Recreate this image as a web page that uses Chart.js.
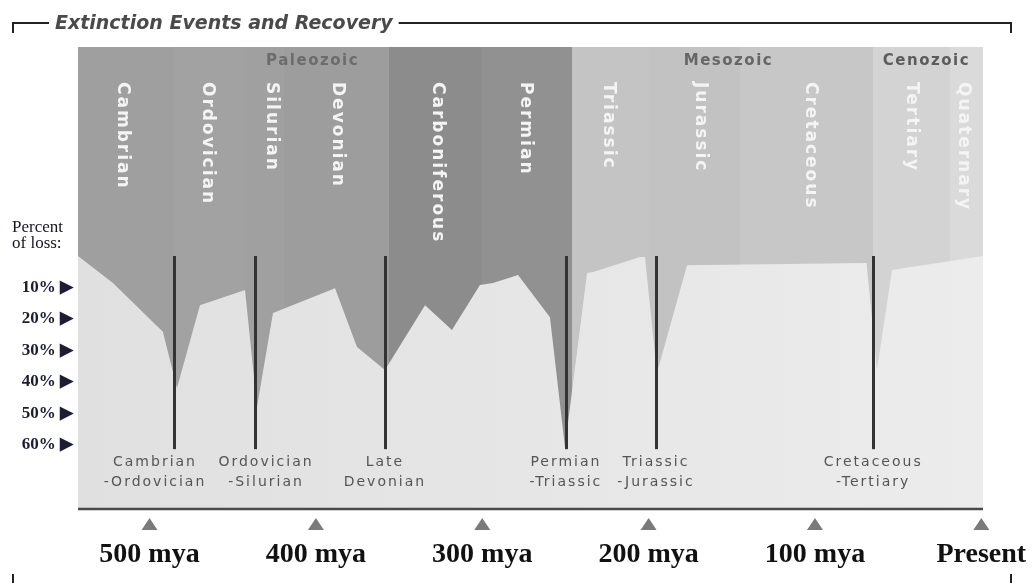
<!DOCTYPE html>
<html>
<head>
<meta charset="utf-8">
<script src="https://cdn.jsdelivr.net/npm/chart.js@4.4.0/dist/chart.umd.min.js"></script>
<style>
  html, body { margin: 0; padding: 0; background: #fff; }
</style>
</head>
<body>
<canvas id="myChart" width="1034" height="583"></canvas>
<script>
// curve: million years ago -> percent of loss
const lossMya = [543, 522, 492, 483.5, 469.7, 442.6, 435.4, 425.8, 388.5, 375.3, 358.5, 334.4, 318.2, 301.4, 293.5, 278.5, 259.3, 250.3, 237, 233.4, 205.2, 202.2, 195, 176.9, 69, 62.7, 53.7, -1];
const lossPct = [0, 8.6, 24, 41.9, 15.6, 10.8, 47.9, 18.1, 10.2, 28.9, 36.2, 15.6, 23.5, 9.2, 8.6, 6.0, 19.4, 60.6, 5.4, 5.1, 0.3, 0.3, 37.1, 2.9, 2.2, 36.2, 4.4, 0];

const periods = ['Cambrian', 'Ordovician', 'Silurian', 'Devonian', 'Carboniferous', 'Permian', 'Triassic', 'Jurassic', 'Cretaceous', 'Tertiary', 'Quaternary'];
const periodStart = [543, 485, 443, 419, 356, 300, 246, 200, 145, 65, 19];
const periodLabelAt = [516, 465, 427, 387, 327, 274, 224, 169, 103, 42, 11];

const eras = ['Paleozoic', 'Mesozoic', 'Cenozoic'];
const eraLabelAt = [402, 152, 33];

const events = [['Cambrian', '-Ordovician'], ['Ordovician', '-Silurian'], ['Late', 'Devonian'], ['Permian', '-Triassic'], ['Triassic', '-Jurassic'], ['Cretaceous', '-Tertiary']];
const eventMya = [485.3, 436.6, 358.5, 249.7, 195.6, 65];

const xTicks = [500, 400, 300, 200, 100, 0];
const yTicks = [0, 10, 20, 30, 40, 50, 60];

// looks
const shades = ['#9f9f9f', '#a2a2a2', '#a0a0a0', '#9d9d9d', '#8c8c8c', '#919191', '#c4c4c4', '#c2c2c2', '#c7c7c7', '#d3d3d3', '#dadada'];
const eraColors = ['#6c6c6c', '#666666', '#5c5c5c'];
const eventLabelShift = [-19, 11, 0, 0, 0, 0];

const panelPlugin = {
    id: 'panel',
    beforeDatasetsDraw(chart) {
        const {ctx, chartArea: a, scales: {x}} = chart;
        periods.forEach((p, i) => {
            const x0 = Math.round(x.getPixelForValue(periodStart[i]));
            const x1 = Math.round(x.getPixelForValue(i + 1 < periods.length ? periodStart[i + 1] : x.min));
            ctx.fillStyle = shades[i];
            ctx.fillRect(x0, a.top, x1 - x0, a.bottom - a.top);
        });
    },
    afterDraw(chart) {
        const {ctx, chartArea: a, scales: {x, y}} = chart;
        ctx.save();

        // event lines
        ctx.strokeStyle = '#333';
        ctx.lineWidth = 3;
        eventMya.forEach(m => {
            const px = Math.round(x.getPixelForValue(m)) + 0.5;
            ctx.beginPath();
            ctx.moveTo(px, y.getPixelForValue(0));
            ctx.lineTo(px, y.getPixelForValue(61.3));
            ctx.stroke();
        });

        // event labels
        ctx.fillStyle = '#555';
        ctx.font = '14px "DejaVu Sans"';
        ctx.letterSpacing = '2px';
        ctx.textAlign = 'center';
        ctx.textBaseline = 'middle';
        events.forEach((lines, i) => {
            const px = x.getPixelForValue(eventMya[i]) + eventLabelShift[i];
            lines.forEach((t, j) => ctx.fillText(t, px, 462 + j * 20));
        });

        // period names, vertical
        ctx.fillStyle = '#f4f4f4';
        ctx.font = 'bold 17px "DejaVu Sans"';
        ctx.textAlign = 'left';
        periods.forEach((p, i) => {
            ctx.save();
            ctx.translate(x.getPixelForValue(periodLabelAt[i]), 82);
            ctx.rotate(Math.PI / 2);
            ctx.fillText(p, 0, 0);
            ctx.restore();
        });

        // era names
        ctx.font = 'bold 15px "DejaVu Sans"';
        ctx.letterSpacing = '1.5px';
        ctx.textAlign = 'center';
        eras.forEach((e, i) => {
            ctx.fillStyle = eraColors[i];
            ctx.fillText(e, x.getPixelForValue(eraLabelAt[i]), 61);
        });
        ctx.letterSpacing = '0px';

        // panel bottom edge
        ctx.strokeStyle = '#4a4a4a';
        ctx.lineWidth = 2.5;
        ctx.beginPath();
        ctx.moveTo(a.left, a.bottom);
        ctx.lineTo(a.right, a.bottom);
        ctx.stroke();

        // tick triangles
        ctx.fillStyle = '#7a7a7a';
        xTicks.forEach(v => {
            const px = x.getPixelForValue(v);
            ctx.beginPath();
            ctx.moveTo(px - 8, 530);
            ctx.lineTo(px + 8, 530);
            ctx.lineTo(px, 518);
            ctx.closePath();
            ctx.fill();
        });

        // "Percent of loss:"
        ctx.fillStyle = '#151528';
        ctx.font = '17px "Liberation Serif"';
        ctx.textAlign = 'left';
        ctx.textBaseline = 'alphabetic';
        ctx.fillText('Percent', 12, 232);
        ctx.fillText('of loss:', 12, 248);

        // title and bracket
        ctx.fillStyle = '#4a4a4a';
        ctx.font = 'italic bold 19px "DejaVu Sans"';
        const title = 'Extinction Events and Recovery';
        ctx.fillText(title, 55, 29);
        const tw = ctx.measureText(title).width;
        ctx.strokeStyle = '#222';
        ctx.lineWidth = 2;
        ctx.beginPath();
        ctx.moveTo(13, 33);
        ctx.lineTo(13, 23);
        ctx.lineTo(49, 23);
        ctx.moveTo(55 + tw + 6, 23);
        ctx.lineTo(1011, 23);
        ctx.lineTo(1011, 33);
        ctx.moveTo(13, 574);
        ctx.lineTo(13, 583);
        ctx.moveTo(1011, 574);
        ctx.lineTo(1011, 583);
        ctx.stroke();

        ctx.restore();
    }
};

const ctx = document.getElementById('myChart').getContext('2d');
const chart = new Chart(ctx, {
    type: 'line',
    data: {
        datasets: [{
            data: lossMya.map((m, i) => ({x: m, y: lossPct[i]})),
            fill: 'start',
            backgroundColor: (c) => {
                const a = c.chart.chartArea;
                if (!a) return '#e5e5e5';
                const g = c.chart.ctx.createLinearGradient(a.left, 0, a.right, 0);
                g.addColorStop(0, '#e0e0e0');
                g.addColorStop(1, '#ececec');
                return g;
            },
            borderWidth: 0,
            pointRadius: 0,
            tension: 0
        }]
    },
    options: {
        responsive: false,
        animation: false,
        devicePixelRatio: 1,
        layout: {padding: {top: 47, right: 51, left: 0, bottom: 0}},
        plugins: {legend: {display: false}, tooltip: {enabled: false}},
        scales: {
            x: {
                type: 'linear',
                reverse: true,
                min: -1,
                max: 543,
                afterBuildTicks: s => { s.ticks = xTicks.map(v => ({value: v})); },
                afterFit: s => { s.height = 74; s.paddingLeft = 0; s.paddingRight = 0; },
                grid: {display: false},
                border: {display: false},
                ticks: {
                    callback: v => v === 0 ? 'Present' : v + ' mya',
                    font: {family: 'Liberation Serif', size: 28, weight: 'bold'},
                    color: '#111',
                    padding: 21,
                    maxRotation: 0,
                    autoSkip: false
                }
            },
            y: {
                type: 'linear',
                reverse: true,
                min: -66.35,
                max: 80.3,
                z: 1,
                afterBuildTicks: s => { s.ticks = yTicks.map(v => ({value: v})); },
                afterFit: s => { s.width = 78; s.paddingTop = 0; s.paddingBottom = 0; },
                grid: {
                    color: c => c.tick && c.tick.value === 0 ? 'rgba(0,0,0,0.13)' : 'rgba(0,0,0,0.08)',
                    lineWidth: 2,
                    drawTicks: false
                },
                border: {display: false},
                ticks: {
                    callback: v => v === 0 ? '' : v + '% \u25B6',
                    font: {family: 'Liberation Serif', size: 17, weight: 'bold'},
                    color: '#1c1c34',
                    padding: 5,
                    autoSkip: false
                }
            }
        }
    },
    plugins: [panelPlugin]
});
</script>
</body>
</html>
